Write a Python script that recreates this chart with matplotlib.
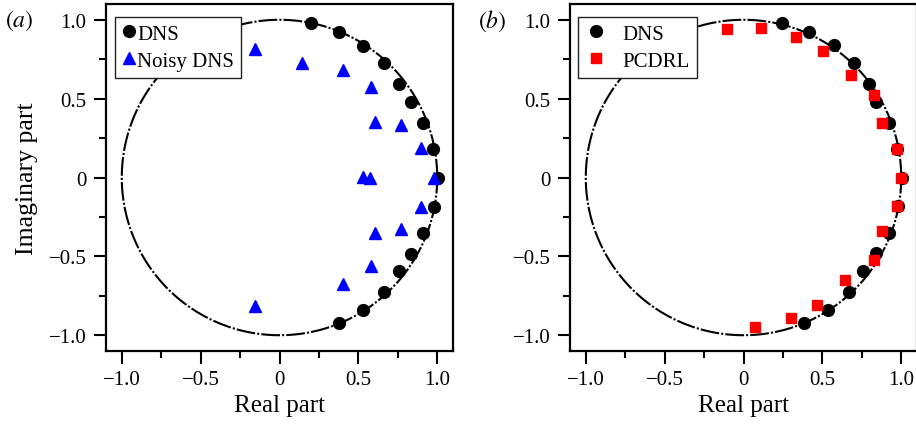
#!/usr/bin/env python3

import numpy as np
import matplotlib
matplotlib.use("Agg")
import matplotlib.pyplot as plt
from matplotlib.ticker import FixedLocator, FuncFormatter

plt.rcParams['font.family'] = ['Liberation Serif', 'DejaVu Serif']
plt.rcParams['mathtext.fontset'] = 'stix'

# panel (a) data
dns_a_re = [0.20, 0.376, 0.532, 0.66, 0.76, 0.833, 0.911, 0.975, 1.008,
            0.979, 0.911, 0.833, 0.76, 0.66, 0.532, 0.376]
dns_a_im = [0.979, 0.92, 0.835, 0.724, 0.59, 0.477, 0.346, 0.181, 0.0,
            -0.188, -0.352, -0.485, -0.595, -0.726, -0.838, -0.92]
noisy_re = [-0.158, 0.143, 0.40, 0.582, 0.605, 0.772, 0.899, 0.527, 0.572,
            0.98, 0.899, 0.772, 0.605, 0.582, 0.40, -0.158]
noisy_im = [0.814, 0.724, 0.68, 0.572, 0.354, 0.333, 0.19, 0.004, 0.0,
            0.0, -0.186, -0.325, -0.35, -0.563, -0.673, -0.814]

# panel (b) data
dns_b_re = [0.245, 0.418, 0.572, 0.703, 0.797, 0.838, 0.921, 0.974, 1.006,
            0.979, 0.922, 0.837, 0.759, 0.668, 0.537, 0.385]
dns_b_im = [0.98, 0.922, 0.837, 0.727, 0.59, 0.478, 0.345, 0.178, 0.0,
            -0.18, -0.352, -0.476, -0.592, -0.725, -0.837, -0.92]
pcdrl_re = [-0.106, 0.108, 0.334, 0.505, 0.68, 0.83, 0.877, 0.974, 1.001,
            0.971, 0.878, 0.83, 0.644, 0.469, 0.298, 0.074]
pcdrl_im = [0.943, 0.945, 0.89, 0.805, 0.651, 0.52, 0.343, 0.178, 0.0,
            -0.178, -0.341, -0.525, -0.647, -0.806, -0.89, -0.945]

major_ticks = [-1.0, -0.5, 0.0, 0.5, 1.0]
minor_ticks = [-0.75, -0.25, 0.25, 0.75]


def fmt(v, pos):
    if abs(v) < 1e-9:
        return "0"
    s = "{:.1f}".format(abs(v))
    return ("\u2212" + s) if v < 0 else s


def setup_axes(ax):
    th = np.linspace(0, 2 * np.pi, 400)
    ax.plot(np.cos(th), np.sin(th), color='black', lw=1.5,
            linestyle=(0, (9, 1, 1, 1)), zorder=1)
    ax.set_xlim(-1.1, 1.1)
    ax.set_ylim(-1.1, 1.1)
    for s in ax.spines.values():
        s.set_linewidth(1.6)
    ax.xaxis.set_major_locator(FixedLocator(major_ticks))
    ax.yaxis.set_major_locator(FixedLocator(major_ticks))
    ax.xaxis.set_minor_locator(FixedLocator(minor_ticks))
    ax.yaxis.set_minor_locator(FixedLocator(minor_ticks))
    ax.xaxis.set_major_formatter(FuncFormatter(fmt))
    ax.yaxis.set_major_formatter(FuncFormatter(fmt))
    ax.tick_params(which='major', direction='out', length=9, width=1.5,
                   labelsize=15, pad=5)
    ax.tick_params(which='minor', direction='out', length=5, width=1.5)
    ax.set_xlabel("Real part", fontsize=18, labelpad=3)


fig = plt.figure(figsize=(9.16, 4.27), dpi=100)
ax1 = fig.add_axes([106 / 916, 75 / 427, 347 / 916, 347 / 427])
ax2 = fig.add_axes([570 / 916, 75 / 427, 347 / 916, 347 / 427])

setup_axes(ax1)
ax1.plot(dns_a_re, dns_a_im, 'o', color='black', ms=8.5, label='DNS', zorder=3)
ax1.plot(noisy_re, noisy_im, '^', color='blue', ms=8, label='Noisy DNS', zorder=4)
ax1.set_ylabel("Imaginary part", fontsize=18.5, labelpad=8)
leg1 = ax1.legend(loc='upper left', bbox_to_anchor=(0.026, 0.963), borderaxespad=0,
                  fontsize=15, fancybox=False, handlelength=0.6, handletextpad=0.1,
                  borderpad=0.35, labelspacing=0.35, framealpha=1)
leg1.get_frame().set_edgecolor('#222222')
leg1.get_frame().set_linewidth(1.0)

setup_axes(ax2)
ax2.plot(dns_b_re, dns_b_im, 'o', color='black', ms=8.5, label='DNS', zorder=3)
ax2.plot(pcdrl_re, pcdrl_im, 's', color='red', ms=7, label='PCDRL', zorder=4)
leg2 = ax2.legend(loc='upper left', bbox_to_anchor=(0.023, 0.963), borderaxespad=0,
                  fontsize=15, fancybox=False, handlelength=1.0, handletextpad=0.8,
                  borderpad=0.35, labelspacing=0.35, framealpha=1)
leg2.get_frame().set_edgecolor('#222222')
leg2.get_frame().set_linewidth(1.0)

fig.text(5 / 916, 1 - 21 / 427, "$(\\mathit{a})$", fontsize=17, va='center', ha='left')
fig.text(478 / 916, 1 - 21 / 427, "$(\\mathit{b})$", fontsize=17, va='center', ha='left')

fig.savefig("out.png", dpi=100)
